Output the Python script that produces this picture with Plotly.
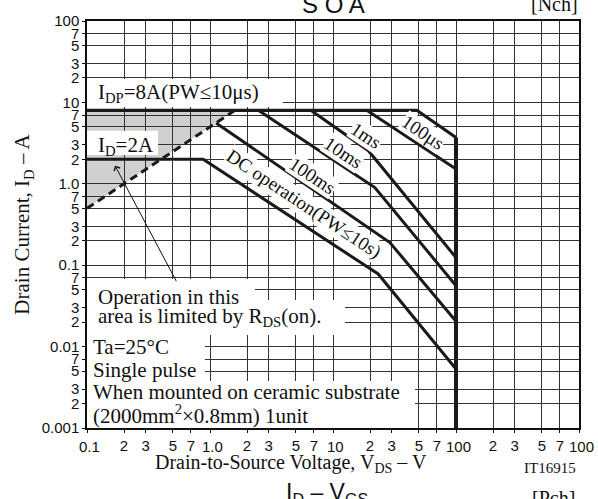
import numpy as np
import plotly.graph_objects as go

# ---------------- data ----------------
x_tickvals = [0.1, 0.2, 0.3, 0.5, 0.7, 1, 2, 3, 5, 7, 10, 20, 30, 50, 70,
              100, 200, 300, 500, 700, 1000]
x_ticktext = ["0.1", "2", "3", "5", "7", "1.0", "2", "3", "5", "7", "10",
              "2", "3", "5", "7", "100", "2", "3", "5", "7", "100"]
y_tickvals = [0.001, 0.002, 0.003, 0.005, 0.007, 0.01, 0.02, 0.03, 0.05, 0.07,
              0.1, 0.2, 0.3, 0.5, 0.7, 1, 2, 3, 5, 7, 10, 20, 30, 50, 70, 100]
y_ticktext = ["0.001", "2", "3", "5", "7", "0.01", "2", "3", "5", "7",
              "0.1", "2", "3", "5", "7", "1.0", "2", "3", "5", "7",
              "10", "2", "3", "5", "7", "100"]

# SOA boundaries (V_DS [V], I_D [A])
idp_v = [0.1, 48, 100]
idp_i = [8, 8, 3.7]
vdss_v = [100, 100]
vdss_i = [3.7, 0.001]
us100_v = [18.8, 100]
us100_i = [8, 1.52]
ms1_v = [6.6, 19.4, 100]
ms1_i = [8, 2.55, 0.124]
ms10_v = [2.47, 21.9, 100]
ms10_i = [8, 0.90, 0.056]
ms100_v = [1.12, 29, 100]
ms100_i = [5.6, 0.19, 0.0205]
dc_v = [0.1, 0.88, 23.3, 100]
dc_i = [2, 2, 0.078, 0.0053]
rds_v = [0.1, 1.6]
rds_i = [0.5, 8]

SERIF = "Liberation Serif, Times New Roman, serif"
SANS = "Liberation Sans, Arial, sans-serif"
L = np.log10

fig = go.Figure()

def add_line(v, i, width=3, dash=None):
    fig.add_trace(go.Scatter(x=v, y=i, mode="lines",
                             line=dict(color="#1a1a1a", width=width, dash=dash),
                             hoverinfo="skip", showlegend=False))

add_line(rds_v, rds_i, width=3, dash="8px,5px")
add_line(idp_v, idp_i, 3.2)
add_line(vdss_v, vdss_i, 4)
add_line(us100_v, us100_i)
add_line(ms1_v, ms1_i)
add_line(ms10_v, ms10_i)
add_line(ms100_v, ms100_i)
add_line(dc_v, dc_i)

shapes = []
# shaded R_DS(on)-limited area (below grid); shape coords are data values on log axes
shapes.append(dict(type="path", xref="x", yref="y", layer="below",
                   path=f"M {rds_v[0]},{rds_i[0]} L {rds_v[1]},{rds_i[1]} L {rds_v[0]},{rds_i[1]} Z",
                   fillcolor="#d0d0d0", line=dict(width=0)))

def wbox(x0, x1, y0, y1):
    shapes.append(dict(type="rect", xref="x", yref="y", layer="between",
                       x0=x0, x1=x1, y0=y0, y1=y1,
                       fillcolor="white", line=dict(width=0)))

wbox(0.1, 3.9, 8.8, 19.4)
wbox(0.1, 0.378, 2.26, 4.5)
wbox(0.1, 2.32, 0.0374, 0.0677)
wbox(0.1, 12.5, 0.0139, 0.0374)
wbox(0.1, 0.91, 0.00378, 0.0139)
wbox(0.1, 46.4, 0.001, 0.00378)
fig.update_layout(shapes=shapes)

ann = []
def txt(t, v, i, size=21, anchor="left", angle=0, bg=None):
    ann.append(dict(text=t, x=L(v), y=L(i), xref="x", yref="y", showarrow=False,
                    xanchor=anchor, yanchor="middle", textangle=angle,
                    font=dict(family=SERIF, size=size, color="#111"),
                    bgcolor=bg, borderpad=0))

txt("I<sub>DP</sub>=8A(PW≤10μs)", 0.12, 12.9)
txt("I<sub>D</sub>=2A", 0.12, 2.91)
txt("Operation in this", 0.12, 0.041)
txt("area is limited by R<sub>DS</sub>(on).", 0.12, 0.0233)
txt("Ta=25°C", 0.1098, 0.00997)
txt("Single pulse", 0.1098, 0.00516)
txt("When mounted on ceramic substrate", 0.1098, 0.00277)
txt("(2000mm<sup>2</sup>×0.8mm) 1unit", 0.1098, 0.00145)

txt("100μs", 54.2, 4.29, 19, "center", 33.5, "white")
txt("1ms", 18.5, 3.9, 19, "center", 33.5, "white")
txt("10ms", 12.1, 2.45, 19, "center", 33.5, "white")
txt("100ms", 6.75, 1.26, 19, "center", 33.5, "white")
txt("DC operation(PW≤10s)", 5.75, 0.56, 19, "center", 33.5, "white")

ann.append(dict(text="", x=L(0.169), y=L(1.67), ax=L(0.54), ay=L(0.061),
                xref="x", yref="y", axref="x", ayref="y", showarrow=True,
                arrowhead=4, arrowsize=1.3, arrowwidth=1, arrowcolor="#111"))

# decade labels of the x axis sit a little lower than the 2/3/5/7 labels
x_ticktext_shown = []
for v, t in zip(x_tickvals, x_ticktext):
    if abs(L(v) - round(L(v))) < 1e-9:
        x_ticktext_shown.append("")
        ann.append(dict(text=t, x=L(v), y=0, xref="x", yref="paper", showarrow=False,
                        xanchor="center", yanchor="top", xshift=2, yshift=-8,
                        font=dict(family=SANS, size=15, color="#111")))
    else:
        x_ticktext_shown.append(t)

def ptxt(t, x, y, size, family, angle=0):
    ann.append(dict(text=t, x=x, y=y, xref="paper", yref="paper", showarrow=False,
                    xanchor="center", yanchor="middle", textangle=angle,
                    font=dict(family=family, size=size, color="#111")))

ptxt("Drain-to-Source Voltage, V<sub>DS</sub> – V", 0.4146, -0.086, 20, SERIF)
ptxt("IT16915", 0.941, -0.0975, 15, SERIF)
ptxt("S O A", 0.502, 1.040, 24, SANS)
ptxt("[Nch]", 0.951, 1.042, 20, SERIF)
ptxt("I<sub>D</sub> – V<sub>GS</sub>", 0.488, -0.16, 23, SANS)
ptxt("[Pch]", 0.949, -0.172, 20, SERIF)

fig.update_layout(annotations=ann)

axis_common = dict(type="log", showgrid=True, gridcolor="#333", gridwidth=1,
                   showline=True, linecolor="#111", linewidth=1.5, mirror=True,
                   ticks="outside", ticklen=3, tickcolor="#111",
                   tickfont=dict(family=SANS, size=15, color="#111"),
                   zeroline=False)
fig.update_xaxes(range=[-1, 3], tickvals=x_tickvals, ticktext=x_ticktext_shown, **axis_common)
fig.update_yaxes(range=[-3, 2], tickvals=y_tickvals, ticktext=y_ticktext,
                 title=dict(text="Drain Current, I<sub>D</sub> – A", standoff=6,
                            font=dict(family=SERIF, size=21, color="#111")),
                 **axis_common)

fig.update_layout(width=598, height=499,
                  margin=dict(l=87, r=19, t=21, b=71, autoexpand=False),
                  plot_bgcolor="white", paper_bgcolor="white",
                  showlegend=False)

fig.write_html("out.html", config={"displayModeBar": False},
               post_script="document.body.style.margin='0';document.body.style.overflow='hidden';")
